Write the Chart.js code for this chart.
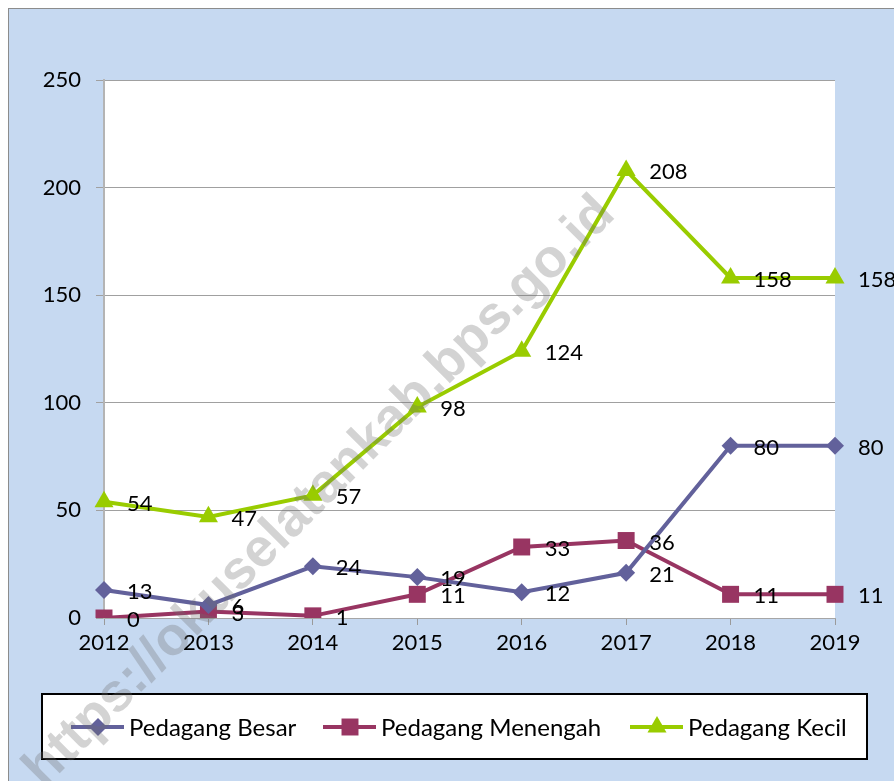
<!DOCTYPE html>
<html>
<head>
<meta charset="utf-8">
<script src="https://cdn.jsdelivr.net/npm/chart.js@4.4.1/dist/chart.umd.min.js"></script>
<style>
  html, body { margin: 0; padding: 0; background: #fff; }
  #wrap { width: 894px; height: 781px; position: relative; }
</style>
</head>
<body>
<div id="wrap"><canvas id="chart"></canvas></div>
<script>
const years = ['2012', '2013', '2014', '2015', '2016', '2017', '2018', '2019'];
const besar = [13, 6, 24, 19, 12, 21, 80, 80];
const menengah = [0, 3, 1, 11, 33, 36, 11, 11];
const kecil = [54, 47, 57, 98, 124, 208, 158, 158];
const yTicks = [0, 50, 100, 150, 200, 250];

const FONT = 'Lato, "Noto Sans", sans-serif';
const watermark = 'https://okuselatankab.bps.go.id';

// background, frame and white plot area
const backdrop = {
  id: 'backdrop',
  beforeDraw(chart) {
    const ctx = chart.ctx;
    const a = chart.chartArea;
    ctx.save();
    ctx.fillStyle = '#ffffff';
    ctx.fillRect(0, 0, chart.width, chart.height);
    ctx.fillStyle = '#c6d9f1';
    ctx.fillRect(8, 8, chart.width, chart.height);
    ctx.strokeStyle = '#8c8c8c';
    ctx.lineWidth = 1;
    ctx.strokeRect(8.5, 8.5, chart.width + 10, chart.height + 10);
    ctx.fillStyle = '#ffffff';
    ctx.fillRect(a.left, a.top, a.right - a.left, a.bottom - a.top);
    ctx.restore();
  }
};

// value labels to the right of every point
const valueLabels = {
  id: 'valueLabels',
  afterDatasetsDraw(chart) {
    const ctx = chart.ctx;
    ctx.save();
    ctx.font = '22px ' + FONT;
    ctx.fillStyle = '#000';
    ctx.textAlign = 'left';
    ctx.textBaseline = 'middle';
    chart.data.datasets.forEach((ds, i) => {
      chart.getDatasetMeta(i).data.forEach((pt, j) => {
        ctx.fillText(String(ds.data[j]), pt.x + 23, pt.y + 2);
      });
    });
    ctx.restore();
  }
};

// boxed legend at the bottom, line + marker + name
const boxLegend = {
  id: 'boxLegend',
  afterDraw(chart) {
    const ctx = chart.ctx;
    ctx.save();
    ctx.fillStyle = '#fff';
    ctx.fillRect(42, 694, 825, 65);
    ctx.strokeStyle = '#000';
    ctx.lineWidth = 2;
    ctx.strokeRect(42, 694, 825, 65);
    const starts = [71, 323, 630];
    const cy = 727;
    ctx.font = '24px ' + FONT;
    ctx.textBaseline = 'middle';
    chart.data.datasets.forEach((ds, i) => {
      const x0 = starts[i];
      ctx.strokeStyle = ds.borderColor;
      ctx.lineWidth = 4;
      ctx.beginPath();
      ctx.moveTo(x0, cy);
      ctx.lineTo(x0 + 53, cy);
      ctx.stroke();
      ctx.fillStyle = ds.borderColor;
      Chart.helpers.drawPoint(ctx, { pointStyle: ds.pointStyle, radius: ds.pointRadius, borderWidth: 0 }, x0 + 27, cy);
      ctx.fillStyle = '#000';
      ctx.fillText(ds.label, x0 + 58, cy + 1);
    });
    ctx.restore();
  }
};

// faint diagonal site watermark on top of everything
const stamp = {
  id: 'stamp',
  afterDraw(chart) {
    const ctx = chart.ctx;
    ctx.save();
    ctx.translate(320, 492);
    ctx.rotate(-Math.PI / 4);
    ctx.font = 'bold 50px "Liberation Sans", sans-serif';
    const w = ctx.measureText(watermark).width;
    const size = Math.round(50 * 815 / w);
    ctx.font = 'bold ' + size + 'px "Liberation Sans", sans-serif';
    ctx.textAlign = 'center';
    ctx.textBaseline = 'middle';
    ctx.fillStyle = 'rgba(110,110,110,0.3)';
    ctx.fillText(watermark, 0, 0);
    ctx.restore();
  }
};

function series(label, data, color, style, radius) {
  return {
    label: label,
    data: data,
    borderColor: color,
    backgroundColor: color,
    borderWidth: 4,
    pointStyle: style,
    pointRadius: radius,
    pointHoverRadius: radius,
    pointBorderWidth: 0,
    tension: 0
  };
}

new Chart(document.getElementById('chart'), {
  type: 'line',
  data: {
    labels: years,
    datasets: [
      series('Pedagang Besar', besar, '#62619b', 'rectRot', 9),
      series('Pedagang Menengah', menengah, '#983562', 'rect', 12),
      series('Pedagang Kecil', kecil, '#99cc00', 'triangle', 11)
    ]
  },
  options: {
    responsive: true,
    maintainAspectRatio: false,
    animation: false,
    layout: { padding: { left: 0, right: 59, top: 80, bottom: 103 } },
    plugins: {
      legend: { display: false },
      tooltip: { enabled: false }
    },
    scales: {
      x: {
        offset: false,
        grid: { drawOnChartArea: false, offset: false, color: '#9a9a9a', tickLength: 7 },
        border: { color: '#a6a6a6', width: 1 },
        ticks: { color: '#000', font: { family: FONT, size: 22 }, padding: 5, maxRotation: 0 },
        afterFit(axis) { axis.height = 60; }
      },
      y: {
        min: 0,
        max: 250,
        afterBuildTicks(axis) { axis.ticks = yTicks.map(v => ({ value: v })); },
        grid: { color: '#a0a0a0', tickLength: 8 },
        border: { color: '#b4b4b4', width: 2 },
        ticks: { color: '#000', font: { family: FONT, size: 22 }, padding: 15 },
        afterFit(axis) { axis.width = 104; }
      }
    }
  },
  plugins: [backdrop, valueLabels, boxLegend, stamp]
});
</script>
</body>
</html>
